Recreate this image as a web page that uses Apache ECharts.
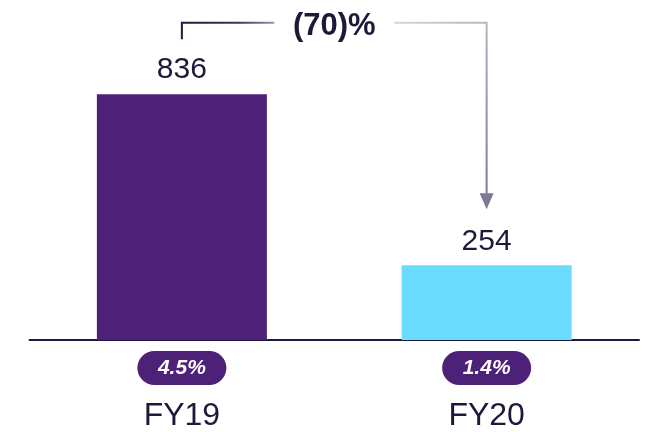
<!DOCTYPE html>
<html>
<head>
<meta charset="utf-8">
<script src="https://cdn.jsdelivr.net/npm/echarts@6/dist/echarts.min.js"></script>
<style>
html,body{margin:0;padding:0;background:#fff;}
#main{width:649px;height:432px;}
</style>
</head>
<body>
<div id="main"></div>
<script>
var categories = ['FY19', 'FY20'];
var values = [836, 254];
var margins = ['4.5%', '1.4%'];
var changeLabel = '(70)%';

var textColor = '#1c1a3b';
var chart = echarts.init(document.getElementById('main'), null, {renderer: 'canvas'});

var option = {
  animation: false,
  grid: {left: 29.5, right: 10, top: 46, bottom: 90, containLabel: false},
  xAxis: {
    type: 'category',
    data: categories,
    axisLine: {show: true, lineStyle: {color: textColor, width: 2}},
    axisTick: {show: false},
    axisLabel: {
      interval: 0,
      margin: 11,
      formatter: function (v, i) {
        return '{pill|' + margins[i] + '}\n{cat|' + v + '}';
      },
      rich: {
        pill: {
          backgroundColor: '#4e2178',
          borderRadius: 17,
          width: 89,
          height: 34,
          lineHeight: 34,
          align: 'center',
          color: '#ffffff',
          fontSize: 21,
          fontWeight: 'bold',
          fontStyle: 'italic',
          fontFamily: 'Liberation Sans, Arial, sans-serif'
        },
        cat: {
          fontSize: 32,
          lineHeight: 62,
          color: textColor,
          fontFamily: 'Liberation Sans, Arial, sans-serif'
        }
      }
    }
  },
  yAxis: {
    type: 'value',
    min: 0,
    max: 1000,
    show: false,
    splitLine: {show: false}
  },
  series: [{
    type: 'bar',
    data: values.map(function (v, i) {
      return {value: v, itemStyle: {color: i === 0 ? '#4e2178' : '#6bdcfd'}};
    }),
    barWidth: 170,
    label: {
      show: true,
      position: 'top',
      distance: 9,
      fontSize: 30,
      color: textColor,
      fontFamily: 'Liberation Sans, Arial, sans-serif'
    }
  }]
};
chart.setOption(option);

// connector annotation derived from the chart's own scales
var p1 = chart.convertToPixel({seriesIndex: 0}, [0, values[0]]);
var p2 = chart.convertToPixel({seriesIndex: 0}, [1, values[1]]);
var lineY = p1[1] - 71.5;
var midX = (p1[0] + p2[0]) / 2;
var gap = 60;
var arrowTip = p2[1] - 56;

chart.setOption({
  graphic: [
    {
      type: 'polyline',
      shape: {points: [[p1[0], p1[1] - 55], [p1[0], lineY], [midX - gap, lineY]]},
      style: {
        fill: null,
        lineWidth: 2,
        stroke: new echarts.graphic.LinearGradient(0, 0, 1, 0, [
          {offset: 0, color: '#1c1a3b'},
          {offset: 0.6, color: '#3a3656'},
          {offset: 1, color: '#9e9cae'}
        ])
      }
    },
    {
      type: 'polyline',
      shape: {points: [[midX + gap, lineY], [p2[0], lineY], [p2[0], arrowTip - 15]]},
      style: {
        fill: null,
        lineWidth: 2,
        stroke: new echarts.graphic.LinearGradient(0, 0, 1, 1, [
          {offset: 0, color: '#d9d8e0'},
          {offset: 0.35, color: '#a9a7b8'},
          {offset: 1, color: '#7c7a92'}
        ])
      }
    },
    {
      type: 'polygon',
      shape: {points: [[p2[0] - 7, arrowTip - 16], [p2[0] + 7, arrowTip - 16], [p2[0], arrowTip]]},
      style: {fill: '#7c7a92'}
    },
    {
      type: 'text',
      x: midX,
      y: lineY + 4,
      style: {
        text: changeLabel,
        fontSize: 31,
        fontWeight: 'bold',
        fontFamily: 'Liberation Sans, Arial, sans-serif',
        fill: textColor,
        align: 'center',
        verticalAlign: 'middle'
      }
    }
  ]
});
</script>
</body>
</html>
